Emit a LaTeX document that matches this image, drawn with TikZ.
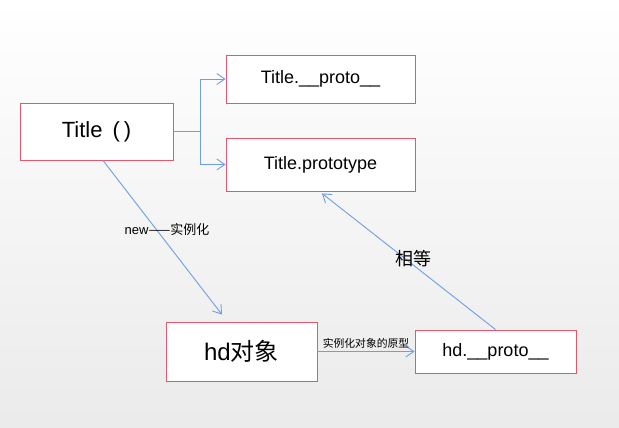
\documentclass[tikz,border=0pt]{standalone}
\usepackage{fontspec}
\setmainfont{Liberation Sans}
\newfontfamily\cjk{Noto Sans CJK SC}
\usepackage{xcolor}
\usepackage{tikz}
\usetikzlibrary{arrows.meta}

\definecolor{boxred}{HTML}{E8566E}
\definecolor{linkblue}{HTML}{6E9EE6}

\tikzset{
    box/.style={draw=boxred, line width=0.9pt, fill=white, inner sep=0pt},
    link/.style={draw=linkblue, line width=0.9pt, -{Straight Barb[length=8pt,width=11pt]}}
}

\begin{document}
\begin{tikzpicture}[x=1pt, y=-1pt]
    % background
    \shade[top color=white, bottom color=black!8] (0,0) rectangle (619,428);
    \useasboundingbox (0,0) rectangle (619,428);

    % Constructor
    \node[box, minimum width=153pt, minimum height=57pt, font=\fontsize{22}{26}\selectfont] (title) at (96.5,131.5) {Title\hspace{10pt}(\hspace{4pt})};

    % Constructor proto
    \node[box, minimum width=189pt, minimum height=48pt, font=\fontsize{18}{22}\selectfont] (tproto) at (320.5,79) {Title.\_\_proto\_\_};

    % Prototype
    \node[box, minimum width=189pt, minimum height=53pt, font=\fontsize{18}{22}\selectfont] (tprot) at (320.5,164.5) {Title.prototype};

    % Instance
    \node[box, minimum width=151pt, minimum height=59pt, font=\fontsize{24}{28}\selectfont] (hd) at (241.5,351.5) {hd{\cjk 对象}};

    % Instance proto
    \node[box, minimum width=161pt, minimum height=43pt, font=\fontsize{18}{22}\selectfont] (hdproto) at (495.5,351.5) {hd.\_\_proto\_\_};

    % Connections
    \coordinate (split) at (200,131.5);
    \draw[draw=linkblue, line width=0.9pt] (title.east) -- (split);
    \draw[link] (split) |- (tproto.west);
    \draw[link] (split) |- (tprot.west);
    \draw[link] ([xshift=6.5pt]title.south) -- ([xshift=-19.5pt, yshift=7pt]hd.north)
        node[pos=0.45, xshift=10.5pt, font=\fontsize{13}{15}\selectfont] (newlbl) {new{\cjk ——实例化}};
    \draw[link] (hd.east) -- (hdproto.west)
        node[midway, above, inner sep=2.5pt, font=\fontsize{10.8}{13}\selectfont] (protolbl) {\cjk 实例化对象的原型};
    \draw[link] (hdproto.north) -- ([xshift=1.5pt, yshift=-2pt]tprot.south)
        node[pos=0.52, xshift=8pt, font=\fontsize{18}{22}\selectfont] (eqlbl) {\cjk 相等};
\end{tikzpicture}
\end{document}
